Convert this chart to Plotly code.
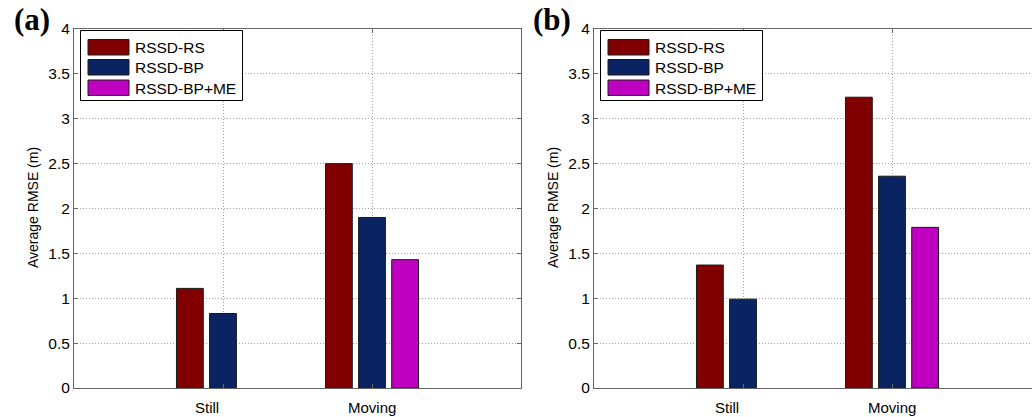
import plotly.graph_objects as go

# ---- data ----
categories = ["Still", "Moving"]
series_names = ["RSSD-RS", "RSSD-BP", "RSSD-BP+ME"]
series_colors = ["#800000", "#0A2463", "#C000C0"]
panel_a = {
    "RSSD-RS": [1.11, 2.50],
    "RSSD-BP": [0.83, 1.90],
    "RSSD-BP+ME": [None, 1.43],
}
panel_b = {
    "RSSD-RS": [1.37, 3.24],
    "RSSD-BP": [0.99, 2.36],
    "RSSD-BP+ME": [None, 1.79],
}
y_ticks = [0, 0.5, 1, 1.5, 2, 2.5, 3, 3.5, 4]
y_ticktext = ["0", "0.5", "1", "1.5", "2", "2.5", "3", "3.5", "4"]
y_title = "Average RMSE (m)"
panel_labels = ["(a)", "(b)"]

W, H = 1032, 417
FONT = "Liberation Sans, Arial, sans-serif"
AXC = "#666666"
GRIDC = "#a0a0a0"

def px_x(p):
    return p / W

def px_y(p):
    return (H - p) / H

# axes pixel frames
ax_left = [(74, 521), (594, 1032)]
ax_top, ax_bot = 29, 388
unit = (521 - 74) / 3.0
xcat = list(range(1, len(categories) + 1))

fig = go.Figure()
for pi, data in enumerate([panel_a, panel_b]):
    xa = "x" if pi == 0 else "x2"
    ya = "y" if pi == 0 else "y2"
    for name, col in zip(series_names, series_colors):
        fig.add_trace(go.Bar(
            x=xcat, y=data[name], name=name, xaxis=xa, yaxis=ya,
            marker=dict(color=col, line=dict(color="#1a1a1a", width=1)),
            showlegend=False,
        ))

common_x = dict(
    tickvals=xcat, ticktext=["", ""], showgrid=True, gridcolor=GRIDC,
    griddash="1px,2px", gridwidth=1, zeroline=False, showline=True,
    linecolor=AXC, linewidth=1, ticks="inside", ticklen=4, tickcolor=AXC,
    mirror="ticks", automargin=False,
)
common_y = dict(
    range=[0, 4], tickvals=y_ticks, ticktext=y_ticktext, showgrid=True,
    gridcolor=GRIDC, griddash="1px,2px", gridwidth=1, zeroline=False,
    showline=True, linecolor=AXC, linewidth=1, ticks="inside", ticklen=4,
    tickcolor=AXC, tickfont=dict(family=FONT, size=15.5, color="#000"),
    automargin=False,
)

dom_y = [px_y(ax_bot), px_y(ax_top)]
fig.update_layout(
    width=W, height=H, autosize=False,
    margin=dict(l=0, r=0, t=0, b=0, pad=0, autoexpand=False),
    paper_bgcolor="white", plot_bgcolor="white",
    barmode="group", bargap=0.333, bargroupgap=0.19,
    xaxis=dict(domain=[px_x(74), px_x(521)], range=[0, 3], anchor="y", **common_x),
    yaxis=dict(domain=dom_y, anchor="x", mirror="ticks", **common_y),
    xaxis2=dict(domain=[px_x(594), 1.0], range=[0, (1032 - 594) / unit], anchor="y2", **common_x),
    yaxis2=dict(domain=dom_y, anchor="x2", mirror=False, **common_y),
    showlegend=False,
)

shapes = []
annotations = []
for pi in range(2):
    L = ax_left[pi][0]
    xa = "x" if pi == 0 else "x2"
    # category labels
    for ci, cat in enumerate(categories):
        annotations.append(dict(
            x=xcat[ci], y=px_y(407), xref=xa, yref="paper", text=cat,
            showarrow=False, xshift=-16 if ci == 0 else 0,
            font=dict(family=FONT, size=15, color="#000"),
            xanchor="center", yanchor="middle",
        ))
    # y title
    annotations.append(dict(
        x=px_x(L - 41), y=px_y(208), xref="paper", yref="paper", text=y_title,
        textangle=-90, showarrow=False,
        font=dict(family=FONT, size=14, color="#000"),
        xanchor="center", yanchor="middle",
    ))
    # panel label
    annotations.append(dict(
        x=px_x(L - 42), y=px_y(19), xref="paper", yref="paper",
        text="<b>%s</b>" % panel_labels[pi], showarrow=False,
        font=dict(family="Liberation Serif, Times New Roman, serif", size=31, color="#000"),
        xanchor="center", yanchor="middle",
    ))
    # legend box
    shapes.append(dict(
        type="rect", xref="paper", yref="paper",
        x0=px_x(L + 6.5), x1=px_x(L + 168.5), y0=px_y(100.5), y1=px_y(30.5),
        fillcolor="white", line=dict(color="#000", width=1), layer="above",
    ))
    row_tops = [39.5, 59.5, 80]
    for ri, (name, col) in enumerate(zip(series_names, series_colors)):
        t = row_tops[ri]
        shapes.append(dict(
            type="rect", xref="paper", yref="paper",
            x0=px_x(L + 14), x1=px_x(L + 55), y0=px_y(t + 15.5), y1=px_y(t),
            fillcolor=col, line=dict(color="#1a1a1a", width=1), layer="above",
        ))
        annotations.append(dict(
            x=px_x(L + 59), y=px_y(t + 8), xref="paper", yref="paper", text=name,
            showarrow=False, xanchor="left", yanchor="middle",
            font=dict(family=FONT, size=15.5, color="#000"),
        ))

fig.update_layout(shapes=shapes, annotations=annotations)
fig.write_html("out.html", config={"responsive": False, "displayModeBar": False})
